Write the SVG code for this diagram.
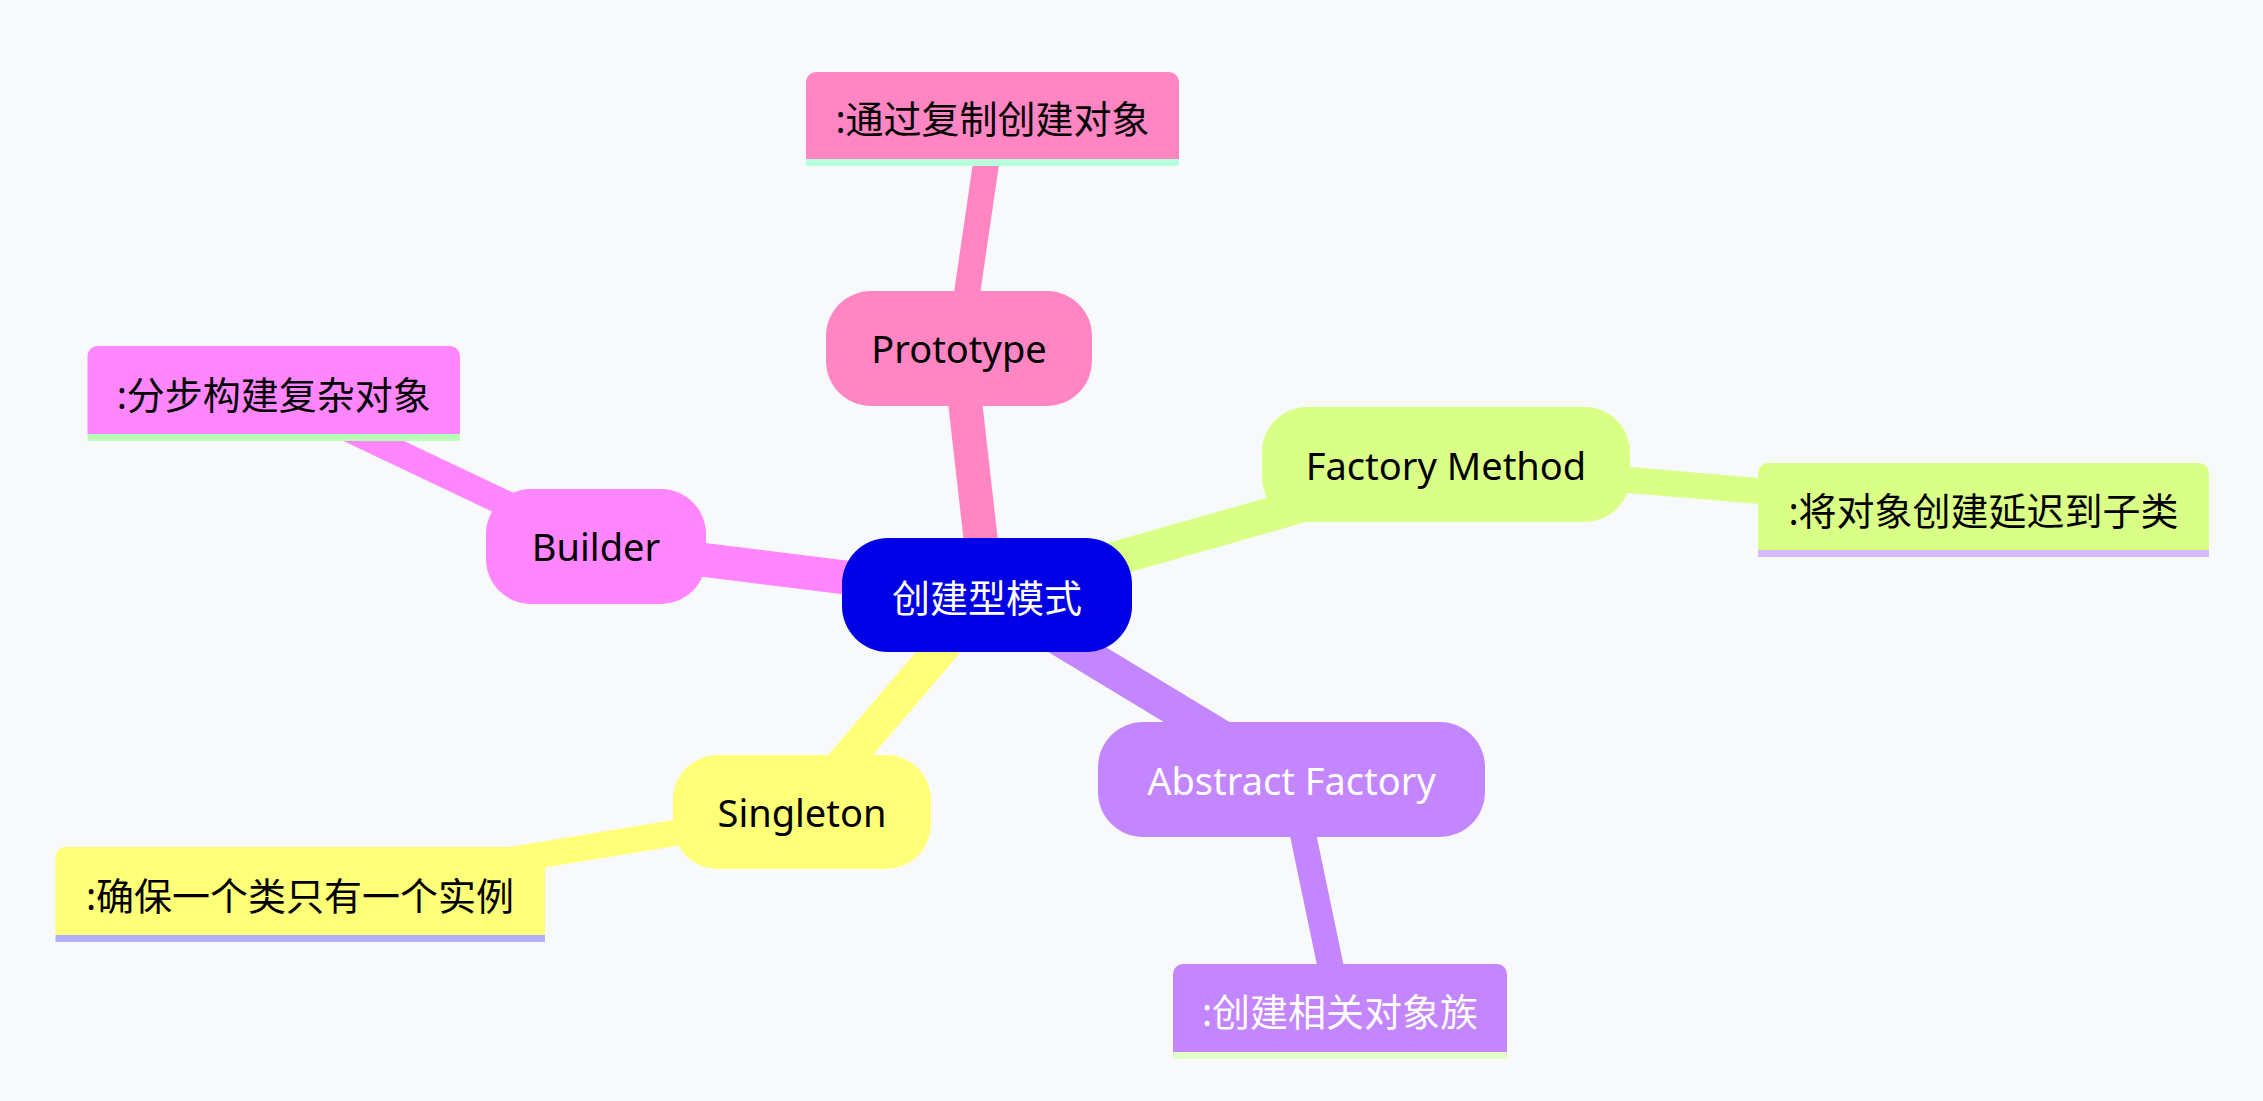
<svg xmlns="http://www.w3.org/2000/svg" width="2263" height="1101" viewBox="0 0 2263 1101">
<style>
  .bg { fill: #f8f9fb; }
  .edge { fill: none; stroke-linecap: butt; }
  .d1 { stroke-width: 34; }
  .d2 { stroke-width: 26; }
  text { font-family: "Noto Sans", "Noto Sans CJK SC", sans-serif; font-size: 38px; text-anchor: middle; }
  .dark { fill: #000000; }
  .light { fill: #ffffff; }
  .s-proto { fill: #ff86c3; } .e-proto { stroke: #ff86c3; }
  .s-build { fill: #ff86ff; } .e-build { stroke: #ff86ff; }
  .s-fact { fill: #daff86; } .e-fact { stroke: #daff86; }
  .s-abs { fill: #c386ff; } .e-abs { stroke: #c386ff; }
  .s-single { fill: #ffff78; } .e-single { stroke: #ffff78; }
  .s-root { fill: #0000e6; }
</style>
<rect class="bg" x="0" y="0" width="2263" height="1101"/>
<g id="connectors">
  <line class="edge d1 e-proto" x1="987" y1="595" x2="959" y2="348.5"/>
  <line class="edge d1 e-build" x1="987" y1="595" x2="596" y2="546.5"/>
  <line class="edge d1 e-fact" x1="987" y1="595" x2="1446" y2="464.5"/>
  <line class="edge d1 e-abs" x1="987" y1="595" x2="1291.5" y2="779.5"/>
  <line class="edge d1 e-single" x1="987" y1="595" x2="802" y2="812"/>
  <line class="edge d2 e-proto" x1="959" y1="348.5" x2="992.5" y2="119"/>
  <line class="edge d2 e-build" x1="596" y1="546.5" x2="273.75" y2="393.5"/>
  <line class="edge d2 e-fact" x1="1446" y1="464.5" x2="1983.5" y2="510"/>
  <line class="edge d2 e-abs" x1="1291.5" y1="779.5" x2="1340" y2="1011.5"/>
  <line class="edge d2 e-single" x1="802" y1="812" x2="300" y2="894.5"/>
</g>
<g id="root">
  <rect class="s-root" x="842" y="538" width="290" height="114" rx="46" ry="46"/>
  <text class="light" x="987" y="612">创建型模式</text>
</g>
<g id="prototype">
  <rect class="s-proto" x="826" y="291" width="266" height="115" rx="45" ry="45"/>
  <text class="dark" x="959" y="363">Prototype</text>
</g>
<g id="prototype-leaf">
  <path class="s-proto" d="M806,159 V82 a10,10 0 0 1 10,-10 H1169 a10,10 0 0 1 10,10 V159 Z"/>
  <rect x="806" y="159" width="373" height="7" fill="#b8ffdc"/>
  <text class="dark" x="992.5" y="133">:通过复制创建对象</text>
</g>
<g id="builder">
  <rect class="s-build" x="486" y="489" width="220" height="115" rx="45" ry="45"/>
  <text class="dark" x="596" y="561">Builder</text>
</g>
<g id="builder-leaf">
  <path class="s-build" d="M87.5,434 V356 a10,10 0 0 1 10,-10 H450 a10,10 0 0 1 10,10 V434 Z"/>
  <rect x="87.5" y="434" width="372.5" height="7" fill="#b8ffb8"/>
  <text class="dark" x="273.75" y="409">:分步构建复杂对象</text>
</g>
<g id="factory-method">
  <rect class="s-fact" x="1262" y="407" width="368" height="115" rx="45" ry="45"/>
  <text class="dark" x="1446" y="480">Factory Method</text>
</g>
<g id="factory-method-leaf">
  <path class="s-fact" d="M1758,550 V473 a10,10 0 0 1 10,-10 H2199 a10,10 0 0 1 10,10 V550 Z"/>
  <rect x="1758" y="550" width="451" height="7" fill="#d4bcff"/>
  <text class="dark" x="1983.5" y="525">:将对象创建延迟到子类</text>
</g>
<g id="abstract-factory">
  <rect class="s-abs" x="1098" y="722" width="387" height="115" rx="45" ry="45"/>
  <text class="light" x="1291.5" y="795">Abstract Factory</text>
</g>
<g id="abstract-factory-leaf">
  <path class="s-abs" d="M1173,1052 V974 a10,10 0 0 1 10,-10 H1497 a10,10 0 0 1 10,10 V1052 Z"/>
  <rect x="1173" y="1052" width="334" height="7" fill="#e0ffc8"/>
  <text class="light" x="1340" y="1026">:创建相关对象族</text>
</g>
<g id="singleton">
  <rect class="s-single" x="673" y="755" width="258" height="114" rx="45" ry="45"/>
  <text class="dark" x="802" y="827">Singleton</text>
</g>
<g id="singleton-leaf">
  <path class="s-single" d="M55.5,935 V857 a10,10 0 0 1 10,-10 H535 a10,10 0 0 1 10,10 V935 Z"/>
  <rect x="55.5" y="935" width="489.5" height="7" fill="#b0b0ff"/>
  <text class="dark" x="300" y="910">:确保一个类只有一个实例</text>
</g>
</svg>
